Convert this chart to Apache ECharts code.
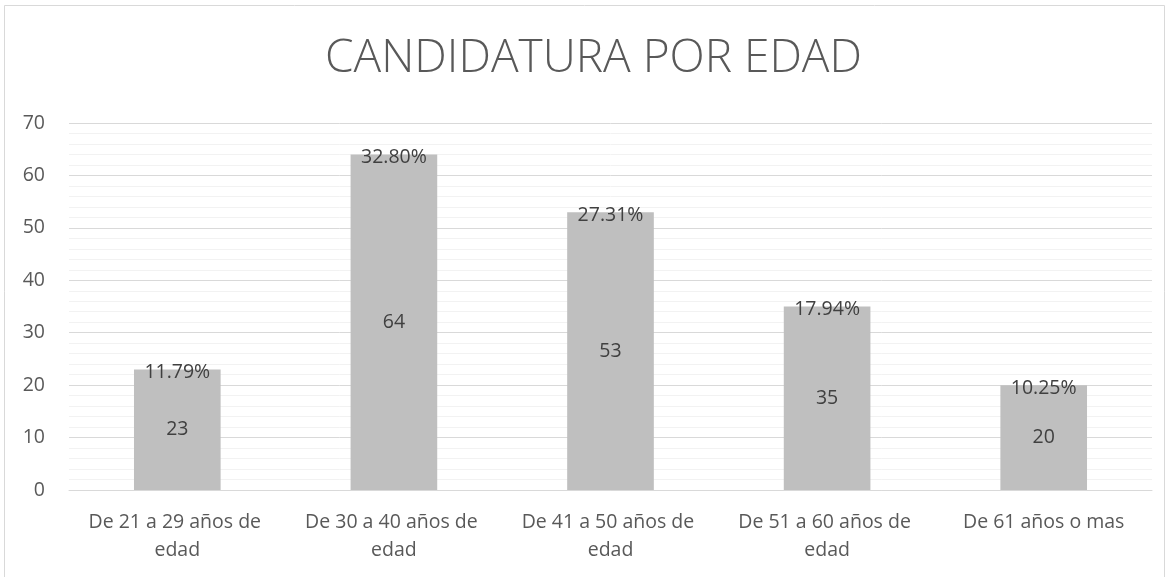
<!DOCTYPE html>
<html>
<head>
<meta charset="utf-8">
<script src="https://cdn.jsdelivr.net/npm/echarts@6/dist/echarts.min.js"></script>
<style>
html,body{margin:0;padding:0;background:#fff;}
#chart{width:1172px;height:577px;}
</style>
</head>
<body>
<div id="chart"></div>
<script>
const titleText = 'CANDIDATURA POR EDAD';
const categories = ['De 21 a 29 años de edad', 'De 30 a 40 años de edad', 'De 41 a 50 años de edad', 'De 51 a 60 años de edad', 'De 61 años o mas'];
const counts = [23, 64, 53, 35, 20];
const percentLabels = ['11.79%', '32.80%', '27.31%', '17.94%', '10.25%'];
const yTicks = [0, 10, 20, 30, 40, 50, 60, 70];

const FONT = 'Open Sans';
const chart = echarts.init(document.getElementById('chart'));
chart.setOption({
  animation: false,
  backgroundColor: '#fff',
  title: {
    text: titleText,
    left: 320,
    top: 31,
    textStyle: { fontFamily: FONT, fontWeight: 300, fontSize: 46, color: '#595959' }
  },
  graphic: [{
    type: 'rect',
    shape: { x: 4.5, y: 5.5, width: 1160, height: 600 },
    style: { fill: 'none', stroke: '#d9d9d9', lineWidth: 1 },
    silent: true
  }],
  grid: { left: 69, right: 20, top: 123, bottom: 87 },
  xAxis: {
    type: 'category',
    data: categories,
    axisLine: { lineStyle: { color: '#d9d9d9' } },
    axisTick: { show: false },
    axisLabel: {
      interval: 0,
      width: 205,
      overflow: 'break',
      margin: 18,
      lineHeight: 28,
      fontFamily: FONT,
      fontSize: 19.5,
      color: '#595959'
    }
  },
  yAxis: {
    type: 'value',
    min: yTicks[0],
    max: yTicks[yTicks.length - 1],
    interval: 10,
    axisLine: { show: false },
    axisTick: { show: false },
    axisLabel: { fontFamily: FONT, fontSize: 19.5, color: '#595959', margin: 24 },
    splitLine: { lineStyle: { color: '#d9d9d9', width: 1 } },
    minorTick: { show: false, splitNumber: 5 },
    minorSplitLine: { show: true, lineStyle: { color: '#f2f2f2', width: 1 } }
  },
  series: [
    {
      type: 'bar',
      data: counts,
      barWidth: '40%',
      itemStyle: { color: '#bfbfbf' },
      label: {
        show: true,
        position: 'inside',
        fontFamily: FONT,
        fontSize: 19.5,
        color: '#404040'
      },
      z: 2
    },
    {
      type: 'bar',
      data: counts,
      barWidth: '40%',
      barGap: '-100%',
      itemStyle: { color: 'rgba(0,0,0,0)' },
      label: {
        show: true,
        position: ['50%', 0],
        align: 'center',
        verticalAlign: 'middle',
        offset: [0, 3],
        fontFamily: FONT,
        fontSize: 19.5,
        color: '#404040',
        formatter: p => percentLabels[p.dataIndex]
      },
      z: 3
    }
  ]
});
</script>
</body>
</html>
